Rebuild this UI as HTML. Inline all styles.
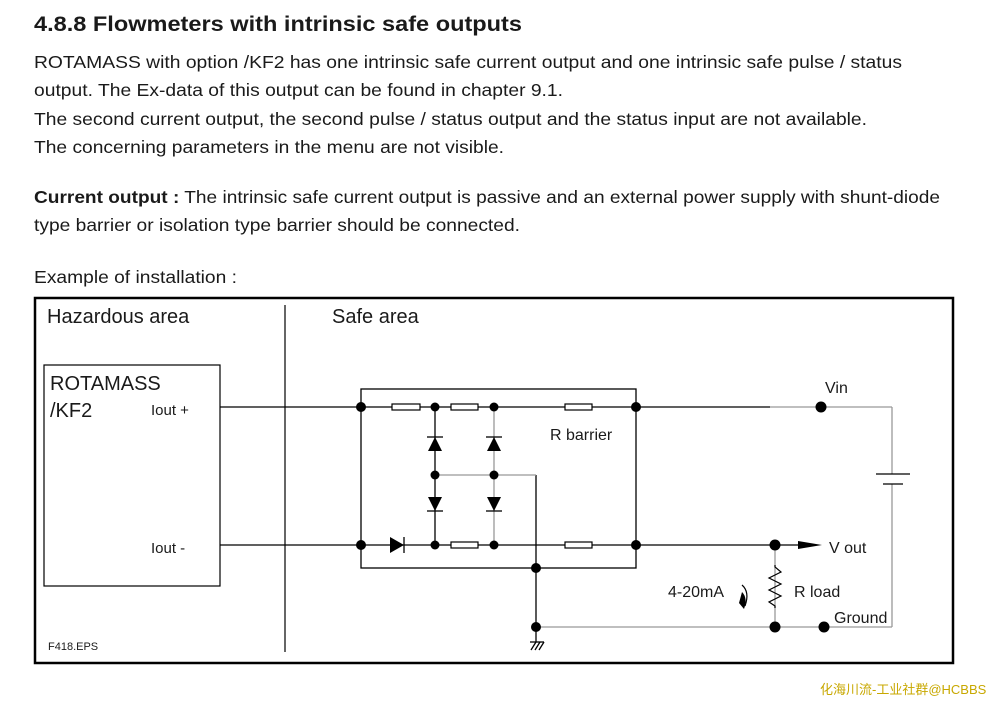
<!DOCTYPE html>
<html><head><meta charset="utf-8"><style>
html,body{margin:0;padding:0;background:#fff;}
svg{display:block;}
text{font-family:"Liberation Sans","Noto Sans CJK SC",sans-serif;fill:#1a1a1a;}
</style></head><body>
<svg width="989" height="705" viewBox="0 0 989 705" xmlns="http://www.w3.org/2000/svg">
<text x="34" y="31" font-size="21" font-weight="bold" textLength="488" lengthAdjust="spacingAndGlyphs">4.8.8  Flowmeters with intrinsic safe outputs</text>
<g font-size="17.5">
<text x="34" y="68" textLength="868" lengthAdjust="spacingAndGlyphs">ROTAMASS with option /KF2 has one intrinsic safe current output and one intrinsic safe pulse / status</text>
<text x="34" y="96" textLength="529" lengthAdjust="spacingAndGlyphs">output. The Ex-data of this output can be found in chapter 9.1.</text>
<text x="34" y="125" textLength="833" lengthAdjust="spacingAndGlyphs">The second current output, the second pulse / status output and the status input are not available.</text>
<text x="34" y="153" textLength="470" lengthAdjust="spacingAndGlyphs">The concerning parameters in the menu are not visible.</text>
<text x="34" y="203" textLength="906" lengthAdjust="spacingAndGlyphs"><tspan font-weight="bold">Current output :</tspan> The intrinsic safe current output is passive and an external power supply with shunt-diode</text>
<text x="34" y="231" textLength="486" lengthAdjust="spacingAndGlyphs">type barrier or isolation type barrier should be connected.</text>
<text x="34" y="283" textLength="203" lengthAdjust="spacingAndGlyphs">Example of installation :</text>
</g>
<rect x="35" y="298" width="918" height="365" fill="none" stroke="#000" stroke-width="2.5"/>
<line x1="285" y1="305" x2="285" y2="652" stroke="#000" stroke-width="1.2"/>
<text x="47" y="323" font-size="20">Hazardous area</text>
<text x="332" y="323" font-size="20">Safe area</text>
<rect x="44" y="365" width="176" height="221" fill="none" stroke="#000" stroke-width="1.2"/>
<text x="50" y="390" font-size="20">ROTAMASS</text>
<text x="50" y="417" font-size="20">/KF2</text>
<text x="151" y="415" font-size="15">Iout +</text>
<text x="151" y="553" font-size="15">Iout -</text>
<g stroke="#000" stroke-width="1.3" fill="none">
<line x1="220" y1="407" x2="770" y2="407"/>
<line x1="220" y1="545" x2="775" y2="545"/>
<line x1="775" y1="545" x2="802" y2="545"/>
<rect x="361" y="389" width="275" height="179"/>
<line x1="435" y1="407" x2="435" y2="545"/>
<line x1="536" y1="475" x2="536" y2="642"/>
</g>
<g stroke="#999" stroke-width="1.3" fill="none">
<line x1="770" y1="407" x2="892" y2="407"/>
<line x1="892" y1="407" x2="892" y2="474"/>
<line x1="892" y1="484" x2="892" y2="627"/>
<line x1="536" y1="627" x2="892" y2="627"/>
<line x1="494" y1="407" x2="494" y2="545"/>
<line x1="435" y1="475" x2="536" y2="475"/>
<line x1="775" y1="545" x2="775" y2="627"/>
</g>
<g stroke="#000" stroke-width="1.2" fill="#fff">
<rect x="392" y="404" width="28" height="6"/>
<rect x="451" y="404" width="27" height="6"/>
<rect x="565" y="404" width="27" height="6"/>
<rect x="451" y="542" width="27" height="6"/>
<rect x="565" y="542" width="27" height="6"/>
</g>
<g stroke="#000" stroke-width="1.3">
<line x1="876" y1="474" x2="910" y2="474"/>
<line x1="883" y1="484" x2="903" y2="484"/>
<line x1="404" y1="537" x2="404" y2="553"/>
<line x1="427" y1="437" x2="443" y2="437"/><line x1="486" y1="437" x2="502" y2="437"/>
<line x1="427" y1="511" x2="443" y2="511"/><line x1="486" y1="511" x2="502" y2="511"/>
<line x1="531" y1="650" x2="536" y2="642"/><line x1="535" y1="650" x2="540" y2="642"/><line x1="539" y1="650" x2="544" y2="642"/><line x1="530" y1="642" x2="544" y2="642"/>
</g>
<g fill="#000">
<polygon points="390,537 390,553 404,545"/>
<polygon points="435,437 428,451 442,451"/><polygon points="494,437 487,451 501,451"/>
<polygon points="428,497 442,497 435,511"/><polygon points="487,497 501,497 494,511"/>
<polygon points="798,541 822,545 798,549"/>
<path d="M742,592 Q748,598 744,609 L739,603 Z"/>
<path d="M742,585 Q750,592 745,606" stroke="#000" stroke-width="1.2" fill="none"/>
<circle cx="361" cy="407" r="5"/><circle cx="636" cy="407" r="5"/>
<circle cx="361" cy="545" r="5"/><circle cx="636" cy="545" r="5"/>
<circle cx="435" cy="407" r="4.5"/><circle cx="494" cy="407" r="4.5"/>
<circle cx="435" cy="545" r="4.5"/><circle cx="494" cy="545" r="4.5"/>
<circle cx="435" cy="475" r="4.5"/><circle cx="494" cy="475" r="4.5"/>
<circle cx="536" cy="568" r="5"/><circle cx="536" cy="627" r="5"/>
<circle cx="775" cy="545" r="5.5"/><circle cx="775" cy="627" r="5.5"/>
<circle cx="824" cy="627" r="5.5"/><circle cx="821" cy="407" r="5.5"/>
</g>
<polyline points="775,565 775,567 781,572 769,578 781,584 769,590 781,596 769,602 775,606 775,608" fill="none" stroke="#000" stroke-width="1.2"/>
<g font-size="16">
<text x="825" y="393">Vin</text>
<text x="550" y="440">R barrier</text>
<text x="829" y="553">V out</text>
<text x="668" y="597">4-20mA</text>
<text x="794" y="597">R load</text>
<text x="834" y="623">Ground</text>
</g>
<text x="48" y="650" font-size="11">F418.EPS</text>
<text x="820" y="694" font-size="13" style="fill:#c8a800">化海川流-工业社群@HCBBS</text>
</svg>
</body></html>
